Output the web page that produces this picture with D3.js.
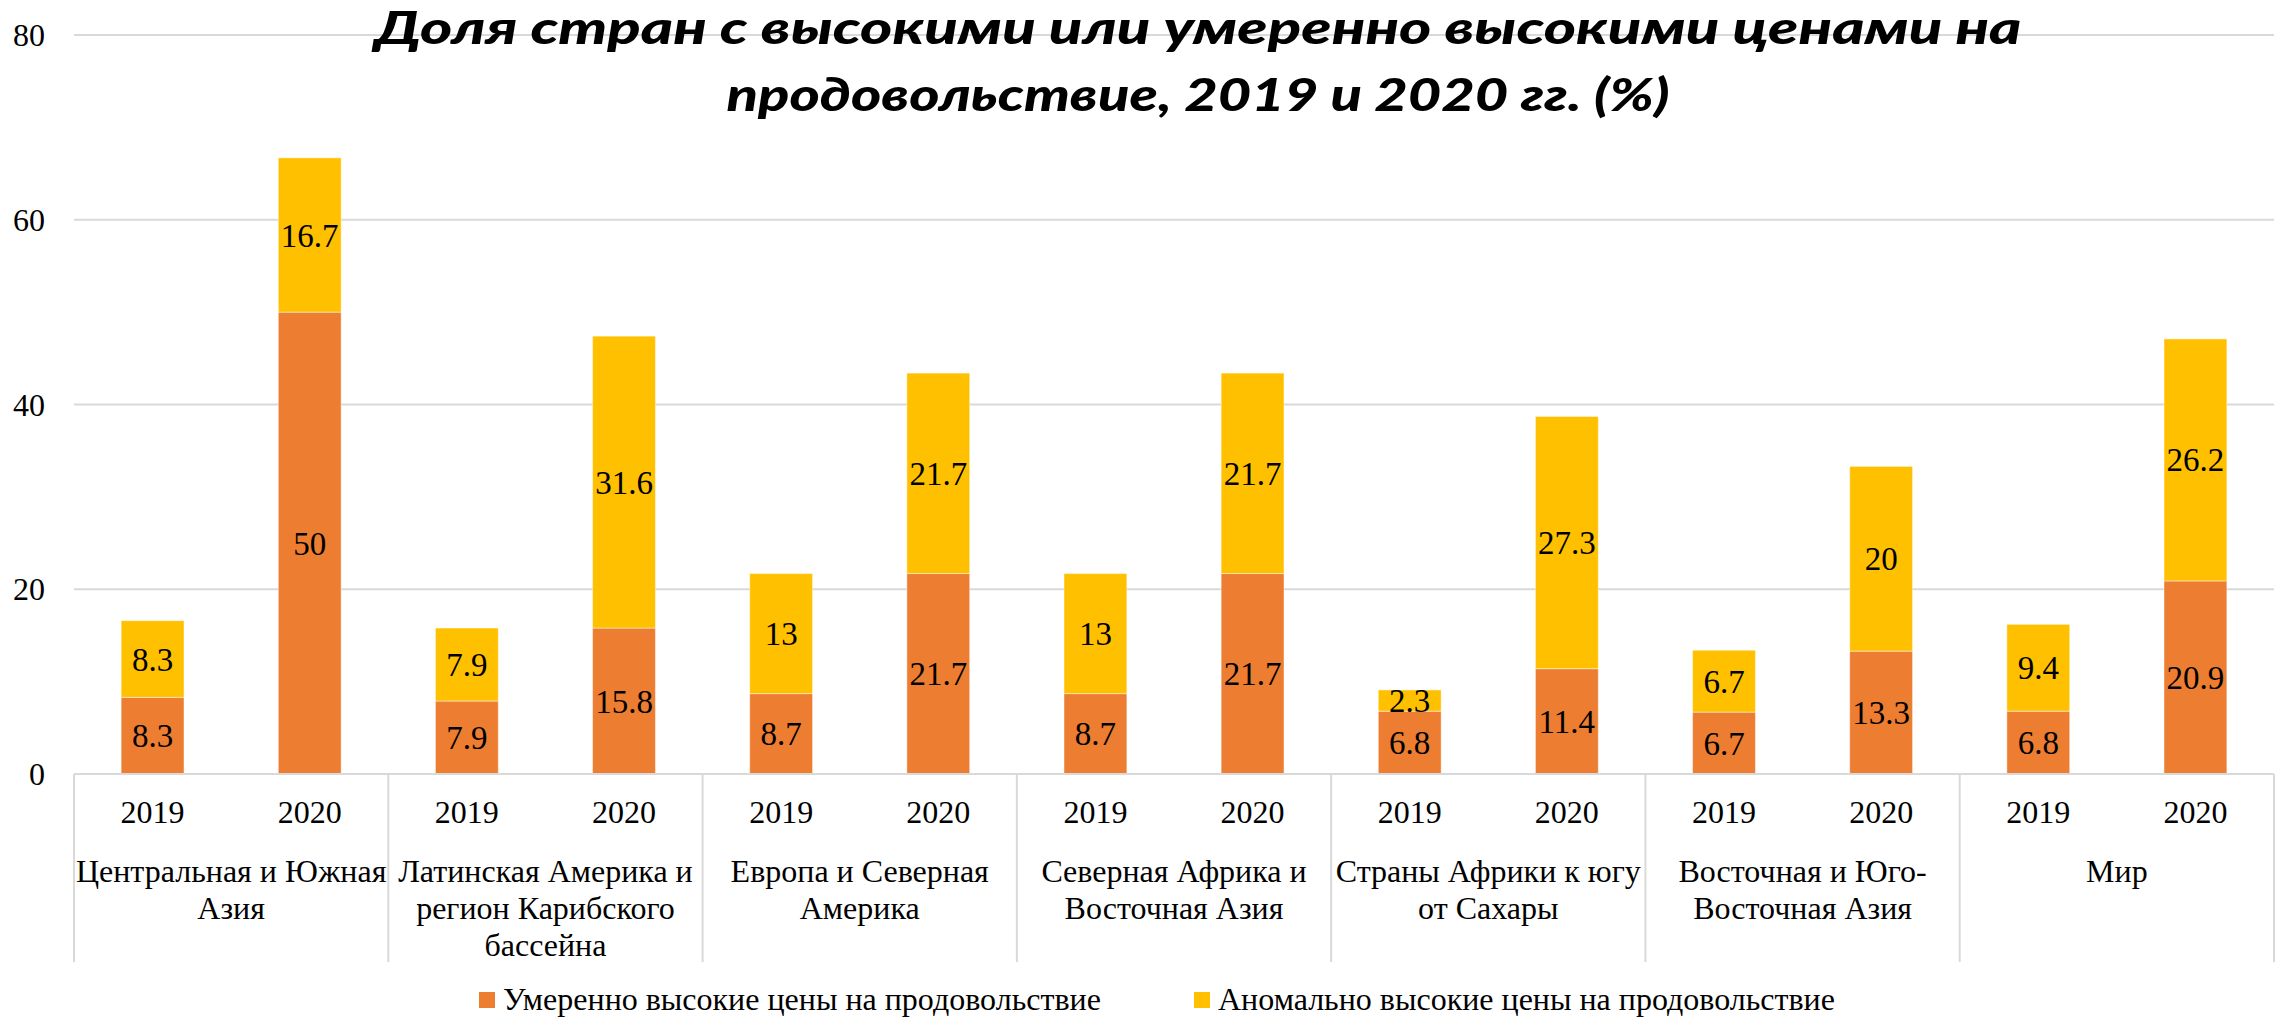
<!DOCTYPE html>
<html>
<head>
<meta charset="utf-8">
<script src="https://cdn.jsdelivr.net/npm/d3@7"></script>
<style>
  body { margin: 0; background: #fff; }
  svg { display: block; }
</style>
</head>
<body>
<svg id="chart"></svg>
<script>
// data
const regions = [
  ["Центральная и Южная", "Азия"],
  ["Латинская Америка и", "регион Карибского", "бассейна"],
  ["Европа и Северная", "Америка"],
  ["Северная Африка и", "Восточная Азия"],
  ["Страны Африки к югу", "от Сахары"],
  ["Восточная и Юго-", "Восточная Азия"],
  ["Мир"]
];
const years = ["2019", "2020"];
const moderate = [8.3, 50, 7.9, 15.8, 8.7, 21.7, 8.7, 21.7, 6.8, 11.4, 6.7, 13.3, 6.8, 20.9];
const abnormal = [8.3, 16.7, 7.9, 31.6, 13, 21.7, 13, 21.7, 2.3, 27.3, 6.7, 20, 9.4, 26.2];
const seriesNames = ["Умеренно высокие цены на продовольствие", "Аномально высокие цены на продовольствие"];
const yTicks = [0, 20, 40, 60, 80];
const titleLines = [
  "Доля стран с высокими или умеренно высокими ценами на",
  "продовольствие, 2019 и 2020 гг. (%)"
];

const W = 2277, H = 1017;
const margin = { left: 74, right: 3, top: 35, bottom: 243 };
const colors = ["#ED7D31", "#FFC000"];
const SERIF = '"Liberation Serif"';

const svg = d3.select("#chart").attr("width", W).attr("height", H);

// helper for serif text
function serif(sel, size) {
  return sel.style("font-family", SERIF).style("font-size", size + "px").style("fill", "#000");
}

// rows for stack
const rows = moderate.map((m, i) => ({
  key: i,
  region: Math.floor(i / 2),
  year: years[i % 2],
  moderate: m,
  abnormal: abnormal[i]
}));

const x = d3.scaleBand()
  .domain(rows.map(d => d.key))
  .range([margin.left, W - margin.right])
  .paddingInner(0.6)
  .paddingOuter(0.3);

const y = d3.scaleLinear().domain([0, 80]).range([H - margin.bottom, margin.top]);

// gridlines
svg.append("g")
  .selectAll("line")
  .data(yTicks.filter(t => t > 0))
  .join("line")
  .attr("x1", margin.left).attr("x2", W - margin.right)
  .attr("y1", d => y(d)).attr("y2", d => y(d))
  .attr("stroke", "#D9D9D9").attr("stroke-width", 2);

// y labels
svg.append("g")
  .selectAll("text")
  .data(yTicks)
  .join("text")
  .attr("x", 45)
  .attr("y", d => y(d))
  .attr("dy", "0.35em")
  .attr("text-anchor", "end")
  .call(serif, 32)
  .text(d => d);

// stacked bars
const stack = d3.stack().keys(["moderate", "abnormal"]);
const series = stack(rows);

const layers = svg.append("g")
  .selectAll("g")
  .data(series)
  .join("g")
  .attr("fill", (d, i) => colors[i]);

layers.selectAll("rect")
  .data(d => d)
  .join("rect")
  .attr("x", d => x(d.data.key))
  .attr("width", x.bandwidth())
  .attr("y", d => y(d[1]))
  .attr("height", d => y(d[0]) - y(d[1]))
  .attr("stroke", "rgba(255,255,255,0.45)")
  .attr("stroke-width", 1);

// value labels
layers.selectAll("text")
  .data(d => d)
  .join("text")
  .attr("x", d => x(d.data.key) + x.bandwidth() / 2)
  .attr("y", d => (y(d[0]) + y(d[1])) / 2)
  .attr("dy", "0.35em")
  .attr("text-anchor", "middle")
  .call(serif, 33)
  .text(d => d3.format("~g")(d[1] - d[0]));

// x axis line and group separators
const baseY = y(0);
const axisG = svg.append("g");
axisG.append("line")
  .attr("x1", margin.left).attr("x2", W - margin.right)
  .attr("y1", baseY).attr("y2", baseY)
  .attr("stroke", "#D9D9D9").attr("stroke-width", 2);

const step = x.step();
const groupEdges = d3.range(regions.length + 1).map(i => margin.left + i * step * 2);
axisG.selectAll("line.sep")
  .data(groupEdges)
  .join("line")
  .attr("class", "sep")
  .attr("x1", d => d).attr("x2", d => d)
  .attr("y1", baseY).attr("y2", 962)
  .attr("stroke", "#D9D9D9").attr("stroke-width", 2);

// year labels
axisG.selectAll("text.year")
  .data(rows)
  .join("text")
  .attr("class", "year")
  .attr("x", d => x(d.key) + x.bandwidth() / 2)
  .attr("y", 812)
  .attr("dy", "0.35em")
  .attr("text-anchor", "middle")
  .call(serif, 32)
  .text(d => d.year);

// region labels
const regionG = axisG.selectAll("text.region")
  .data(regions)
  .join("text")
  .attr("class", "region")
  .attr("text-anchor", "middle")
  .call(serif, 32);

regionG.selectAll("tspan")
  .data((d, i) => d.map((line, j) => ({ line, j, i })))
  .join("tspan")
  .attr("x", d => margin.left + d.i * step * 2 + step)
  .attr("y", d => 871 + d.j * 37)
  .attr("dy", "0.35em")
  .text(d => d.line);

// legend
const legendX = [479, 1194];
const legend = svg.append("g")
  .selectAll("g")
  .data(seriesNames)
  .join("g")
  .attr("transform", (d, i) => `translate(${legendX[i]},0)`);

legend.append("rect")
  .attr("x", 0).attr("y", 992)
  .attr("width", 16).attr("height", 16)
  .attr("fill", (d, i) => colors[i]);

legend.append("text")
  .attr("x", 24).attr("y", 1010)
  .call(serif, 32)
  .text(d => d);

// title
const titleWidths = [1647, 943];
svg.append("g")
  .selectAll("text")
  .data(titleLines)
  .join("text")
  .attr("x", 1198)
  .attr("y", (d, i) => 44 + i * 67)
  .attr("text-anchor", "middle")
  .attr("textLength", (d, i) => titleWidths[i])
  .attr("lengthAdjust", "spacingAndGlyphs")
  .style("font-family", "Lato, 'Open Sans', sans-serif")
  .style("font-weight", 900)
  .style("font-style", "italic")
  .style("font-size", "45px")
  .style("fill", "#000")
  .text(d => d);
</script>
</body>
</html>
